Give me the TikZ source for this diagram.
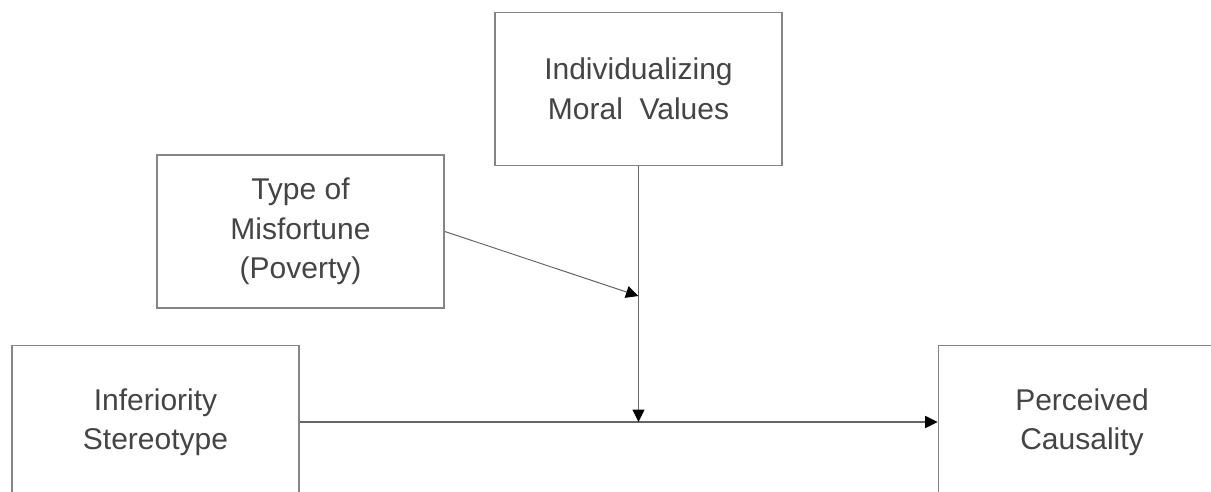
\documentclass[tikz,border=0pt]{standalone}
\usepackage{fontspec}
\setmainfont{Liberation Sans}
\usetikzlibrary{arrows.meta}
\definecolor{boxline}{HTML}{858585}
\definecolor{linkline}{HTML}{666666}
\definecolor{labeltext}{HTML}{444444}
\begin{document}
\begin{tikzpicture}[x=1pt,y=-1pt,
  varbox/.style={draw=boxline, line width=1.6pt, fill=white,
    minimum width=287pt, minimum height=153pt, inner sep=0pt,
    align=center, text=labeltext, font=\fontsize{30}{39.5}\selectfont},
  link/.style={draw=linkline, line width=1.3pt,
    -{Triangle[length=12.5pt,width=12pt,color=black,fill=black]}}]
  \useasboundingbox (0,0) rectangle (1211,492);
  \clip (0,0) rectangle (1211,492);

  % the four variables
  \node[varbox] (moral) at (638.5,89) {Individualizing\\Moral\ \ Values};
  \node[varbox] (type) at (300.5,231.5) {Type of\\Misfortune\\(Poverty)};
  \node[varbox] (infer) at (155.5,422) {Inferiority\\Stereotype};
  \node[varbox] (cause) at (1082,422) {Perceived\\Causality};

  % points where moderation paths meet
  \coordinate (hit) at (moral.south |- infer.east);
  \coordinate (mod) at (638.5,296);

  % paths
  \draw[link] (infer.east) -- (cause.west);
  \draw[link] (moral.south) -- (hit);
  \draw[link, line width=1pt] (type.east) -- (mod);
\end{tikzpicture}
\end{document}
